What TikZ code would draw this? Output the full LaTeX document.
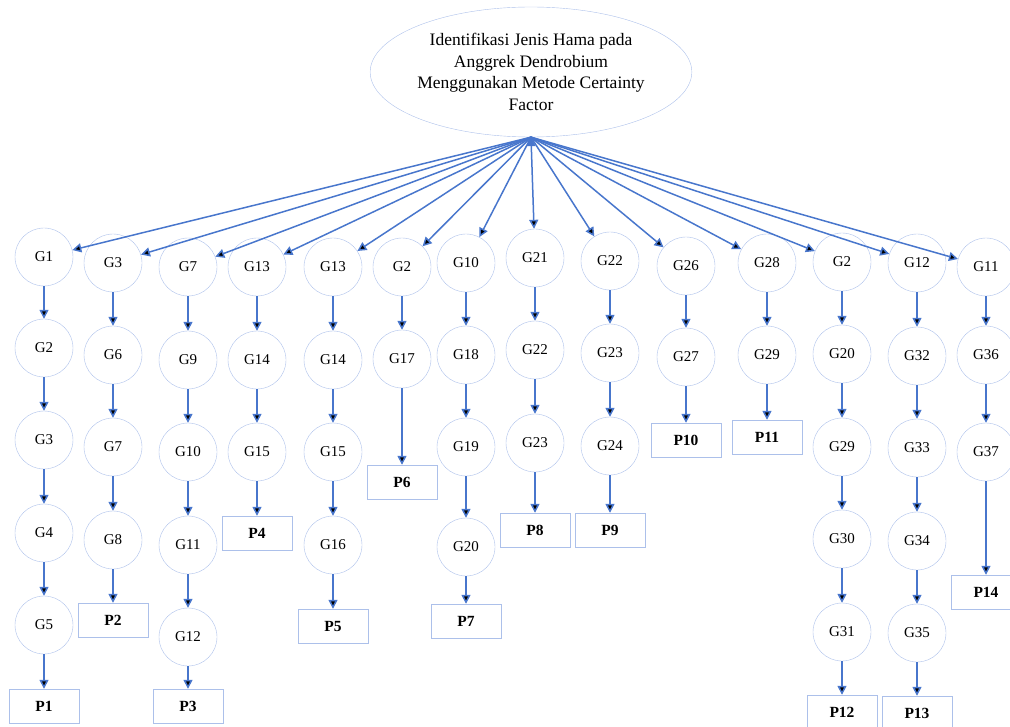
\documentclass[tikz,border=0pt]{standalone}
\usepackage{fontspec}
\setmainfont{Liberation Serif}
\usepackage{xcolor}
\usepackage{tikz}
\usetikzlibrary{shapes.geometric,arrows.meta}
\definecolor{garis}{RGB}{72,118,204}
\definecolor{tepi}{RGB}{172,192,234}

\begin{document}
\begin{tikzpicture}[x=1pt,y=-1pt]
    % `gejala' is used for the symptom circles (G).
    % `hama' is used for the result boxes (P).
    % `judul' is the ellipse on top, `panah' the arrows.
    \tikzstyle{gejala} = [draw=tepi,circle,minimum size=58pt,inner sep=0pt,font=\fontsize{15}{18}\selectfont]
    \tikzstyle{hama} = [draw=tepi,minimum width=70pt,minimum height=34pt,inner sep=0pt,font=\fontsize{15.5}{18}\selectfont\bfseries]
    \tikzstyle{judul} = [draw=tepi,ellipse,minimum width=315pt,minimum height=130pt,inner sep=0pt,align=center,font=\fontsize{17.5}{21.7}\selectfont]
    \tikzstyle{panah} = [draw=garis,line width=1.5pt,-{Triangle[length=9pt,width=9pt]}]
    %
    \clip (0,0) rectangle (1010,727);
    \node[judul] (root) at (531,72) {Identifikasi Jenis Hama pada\\Anggrek Dendrobium\\Menggunakan Metode Certainty\\Factor};
    % First column.
    \node[gejala] (a1) at (44,257) {G1};
    \node[gejala] (a2) at (44,348) {G2};
    \node[gejala] (a3) at (44,440) {G3};
    \node[gejala] (a4) at (44,533) {G4};
    \node[gejala] (a5) at (44,625) {G5};
    \node[hama] (pa) at (44,706) {P1};
    % Second column.
    \node[gejala] (b1) at (113,263) {G3};
    \node[gejala] (b2) at (113,355) {G6};
    \node[gejala] (b3) at (113,447) {G7};
    \node[gejala] (b4) at (113,540) {G8};
    \node[hama] (pb) at (113,620) {P2};
    % Third column.
    \node[gejala] (c1) at (188,267) {G7};
    \node[gejala] (c2) at (188,360) {G9};
    \node[gejala] (c3) at (188,452) {G10};
    \node[gejala] (c4) at (188,545) {G11};
    \node[gejala] (c5) at (188,637) {G12};
    \node[hama] (pc) at (188,706) {P3};
    % Fourth column.
    \node[gejala] (d1) at (257,267) {G13};
    \node[gejala] (d2) at (257,360) {G14};
    \node[gejala] (d3) at (257,452) {G15};
    \node[hama] (pd) at (257,533) {P4};
    % Fifth column.
    \node[gejala] (e1) at (333,267) {G13};
    \node[gejala] (e2) at (333,360) {G14};
    \node[gejala] (e3) at (333,452) {G15};
    \node[gejala] (e4) at (333,545) {G16};
    \node[hama] (pe) at (333,626) {P5};
    % Sixth column.
    \node[gejala] (f1) at (402,267) {G2};
    \node[gejala] (f2) at (402,359) {G17};
    \node[hama] (pf) at (402,482) {P6};
    % Seventh column.
    \node[gejala] (g1) at (466,263) {G10};
    \node[gejala] (g2) at (466,355) {G18};
    \node[gejala] (g3) at (466,447) {G19};
    \node[gejala] (g4) at (466,547) {G20};
    \node[hama] (pg) at (466,621) {P7};
    % Eighth column.
    \node[gejala] (h1) at (535,258) {G21};
    \node[gejala] (h2) at (535,350) {G22};
    \node[gejala] (h3) at (535,443) {G23};
    \node[hama] (ph) at (535,530) {P8};
    % Ninth column.
    \node[gejala] (i1) at (610,261) {G22};
    \node[gejala] (i2) at (610,353) {G23};
    \node[gejala] (i3) at (610,446) {G24};
    \node[hama] (pi) at (610,530) {P9};
    % Tenth column.
    \node[gejala] (j1) at (686,266) {G26};
    \node[gejala] (j2) at (686,357) {G27};
    \node[hama] (pj) at (686,440) {P10};
    % Eleventh column.
    \node[gejala] (k1) at (767,263) {G28};
    \node[gejala] (k2) at (767,355) {G29};
    \node[hama] (pk) at (767,437) {P11};
    % Twelfth column.
    \node[gejala] (l1) at (842,262) {G2};
    \node[gejala] (l2) at (842,354) {G20};
    \node[gejala] (l3) at (842,447) {G29};
    \node[gejala] (l4) at (842,539) {G30};
    \node[gejala] (l5) at (842,632) {G31};
    \node[hama] (pl) at (842,712) {P12};
    % Thirteenth column.
    \node[gejala] (m1) at (917,263) {G12};
    \node[gejala] (m2) at (917,356) {G32};
    \node[gejala] (m3) at (917,448) {G33};
    \node[gejala] (m4) at (917,541) {G34};
    \node[gejala] (m5) at (917,633) {G35};
    \node[hama] (pm) at (917,713) {P13};
    % Fourteenth column.
    \node[gejala] (n1) at (986,267) {G11};
    \node[gejala] (n2) at (986,355) {G36};
    \node[gejala] (n3) at (986,452) {G37};
    \node[hama] (pn) at (986,592) {P14};
    %
    % Arrows from the title.
    \path[panah] (root.south) edge (a1) edge (b1) edge (c1) edge (d1) edge (e1)
        edge (f1) edge (g1) edge (h1) edge (i1) edge (j1) edge (k1) edge (l1)
        edge (m1) edge (n1);
    % Arrows down each column.
    \path[panah] (a1) edge (a2) (a2) edge (a3) (a3) edge (a4) (a4) edge (a5) (a5) edge (pa);
    \path[panah] (b1) edge (b2) (b2) edge (b3) (b3) edge (b4) (b4) edge (pb);
    \path[panah] (c1) edge (c2) (c2) edge (c3) (c3) edge (c4) (c4) edge (c5) (c5) edge (pc);
    \path[panah] (d1) edge (d2) (d2) edge (d3) (d3) edge (pd);
    \path[panah] (e1) edge (e2) (e2) edge (e3) (e3) edge (e4) (e4) edge (pe);
    \path[panah] (f1) edge (f2) (f2) edge (pf);
    \path[panah] (g1) edge (g2) (g2) edge (g3) (g3) edge (g4) (g4) edge (pg);
    \path[panah] (h1) edge (h2) (h2) edge (h3) (h3) edge (ph);
    \path[panah] (i1) edge (i2) (i2) edge (i3) (i3) edge (pi);
    \path[panah] (j1) edge (j2) (j2) edge (pj);
    \path[panah] (k1) edge (k2) (k2) edge (pk);
    \path[panah] (l1) edge (l2) (l2) edge (l3) (l3) edge (l4) (l4) edge (l5) (l5) edge (pl);
    \path[panah] (m1) edge (m2) (m2) edge (m3) (m3) edge (m4) (m4) edge (m5) (m5) edge (pm);
    \path[panah] (n1) edge (n2) (n2) edge (n3) (n3) edge (pn);
    %
\end{tikzpicture}
\end{document}
